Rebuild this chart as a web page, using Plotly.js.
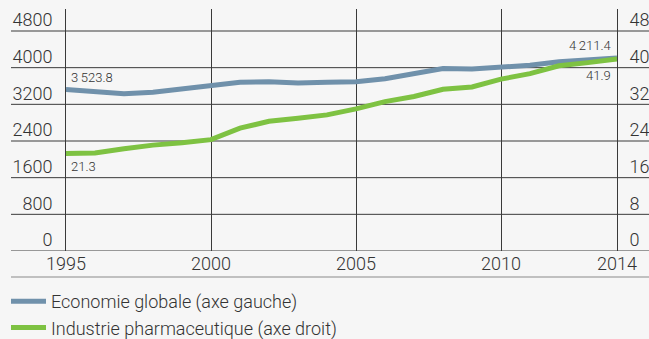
<!DOCTYPE html>
<html>
<head>
<meta charset="utf-8">
<script src="https://cdn.plot.ly/plotly-3.0.1.min.js"></script>
<style>html,body{margin:0;padding:0;background:#f6f6f6;}#chart{width:649px;height:339px;}</style>
</head>
<body>
<div id="chart"></div>
<script>
var years = [1995,1996,1997,1998,1999,2000,2001,2002,2003,2004,2005,2006,2007,2008,2009,2010,2011,2012,2013,2014];
var economie = [3523.8,3480,3432,3463,3528,3620,3681,3694,3666,3681,3694,3760,3877,3982,3971,4000,4052,4130,4174,4211.4];
var pharma = [21.3,21.4,22.3,23.1,23.6,24.3,26.8,28.3,28.95,29.7,31.0,32.6,33.7,35.3,35.8,37.5,38.7,40.4,41.1,41.9];
var xTicks = [1995,2000,2005,2010,2014];
var leftTicks = [0,800,1600,2400,3200,4000,4800];
var rightTicks = [0,8,16,24,32,40,48];
var seriesNames = ['Economie globale (axe gauche)','Industrie pharmaceutique (axe droit)'];
var labelFirstEco = '3\u2009523.8', labelLastEco = '4\u2009211.4';
var labelFirstPh = '21.3', labelLastPh = '41.9';

var FONT = 'Roboto, "Liberation Sans", sans-serif';
var txt = '#333333';
var grid = '#3a3a3a';
var blue = '#7091ab', green = '#7ec242';

var traces = [
  {x: years, y: economie, name: seriesNames[0], type: 'scatter', mode: 'lines',
   line: {color: blue, width: 5}, yaxis: 'y', hoverinfo: 'skip'},
  {x: years, y: pharma, name: seriesNames[1], type: 'scatter', mode: 'lines',
   line: {color: green, width: 5}, yaxis: 'y2', hoverinfo: 'skip'}
];

var L = 66, R = 32, T = 9, B = 88, W = 649, H = 339;
var pw = W - L - R, ph = H - T - B;
var xl = (11 - L) / pw, xr = (W - L) / pw;
var shapes = leftTicks.map(function(v){
  return {type: 'line', xref: 'paper', yref: 'y', x0: xl, x1: xr, y0: v, y1: v,
          line: {color: grid, width: 1}, layer: 'below'};
});
shapes.push({type: 'line', xref: 'paper', yref: 'paper', x0: xl, x1: xr,
  y0: -(277 - (H - B)) / ph, y1: -(277 - (H - B)) / ph, line: {color: '#8a8a8a', width: 1}});

var tickFont = {family: FONT, size: 18, color: txt, weight: 300};
var annFont = {family: FONT, size: 13, color: txt, weight: 300};

var layout = {
  width: W, height: H,
  margin: {l: L, r: R, t: T, b: B, pad: 0, autoexpand: false},
  paper_bgcolor: '#f6f6f6', plot_bgcolor: '#f6f6f6',
  showlegend: true,
  legend: {x: (6 - L) / pw, y: ((H - B) - 283) / ph, xanchor: 'left', yanchor: 'top',
           bgcolor: 'rgba(0,0,0,0)', font: {family: FONT, size: 18, color: txt, weight: 300},
           itemwidth: 35, tracegroupgap: 0},
  xaxis: {range: [1995, 2014], tickvals: xTicks, ticktext: xTicks.map(String), automargin: false,
          showgrid: true, gridcolor: grid, gridwidth: 1, zeroline: false, showline: false,
          ticks: '', tickfont: tickFont, fixedrange: true},
  yaxis: {range: [0, 5280], tickvals: leftTicks, ticktext: leftTicks.map(String), automargin: false,
          showgrid: false, zeroline: false, showline: true, linecolor: grid, linewidth: 1,
          ticks: 'outside', ticklen: 9, tickcolor: 'rgba(0,0,0,0)', tickfont: tickFont, ticklabelshift: -11},
  yaxis2: {range: [0, 52.8], overlaying: 'y', side: 'right', tickvals: rightTicks, ticktext: rightTicks.map(String), automargin: false,
          showgrid: false, zeroline: false, showline: true, linecolor: grid, linewidth: 1,
          ticks: 'outside', ticklen: 8, tickcolor: 'rgba(0,0,0,0)', tickfont: tickFont, ticklabelshift: -11},
  shapes: shapes,
  annotations: [
    {x: years[0], y: economie[0], xref: 'x', yref: 'y', text: labelFirstEco, showarrow: false,
     xanchor: 'left', yanchor: 'bottom', xshift: 3, yshift: 2, font: annFont},
    {x: years[years.length-1], y: economie[economie.length-1], xref: 'x', yref: 'y', text: labelLastEco, showarrow: false,
     xanchor: 'right', yanchor: 'bottom', xshift: -4, yshift: 3, font: annFont},
    {x: years[0], y: pharma[0], xref: 'x', yref: 'y2', text: labelFirstPh, showarrow: false,
     xanchor: 'left', yanchor: 'top', xshift: 3, yshift: -4, font: annFont},
    {x: years[years.length-1], y: pharma[pharma.length-1], xref: 'x', yref: 'y2', text: labelLastPh, showarrow: false,
     xanchor: 'right', yanchor: 'top', xshift: -4, yshift: -7, font: annFont}
  ]
};

Plotly.newPlot('chart', traces, layout, {staticPlot: true, displayModeBar: false});
</script>
</body>
</html>
